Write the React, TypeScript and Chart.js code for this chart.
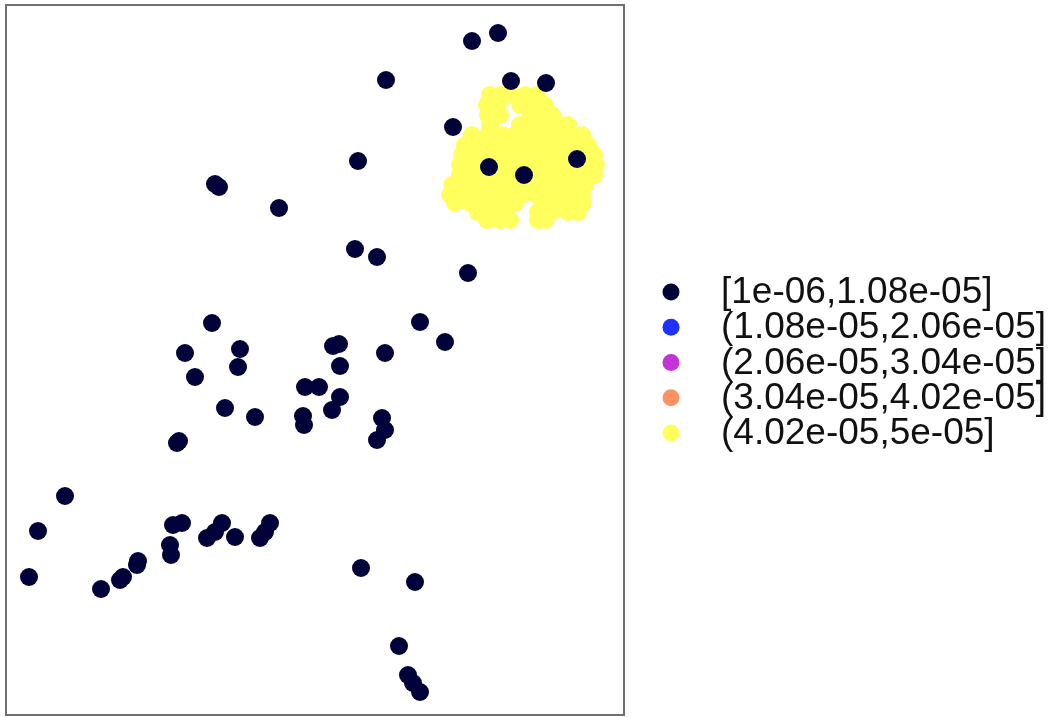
import React, { useEffect, useRef } from "react";
import { Chart, registerables } from "chart.js";

Chart.register(...registerables);

// Class breaks shown in the legend
const legendLabels = [
  "[1e-06,1.08e-05]",
  "(1.08e-05,2.06e-05]",
  "(2.06e-05,3.04e-05]",
  "(3.04e-05,4.02e-05]",
  "(4.02e-05,5e-05]",
];
const classColors = ["#02023a", "#1f30ff", "#c233d8", "#ff9262", "#ffff5e"];

// Easting-like coordinate (x) and northing-like coordinate (y, map units, top = small)
const lowX = [
  472, 498, 386, 511, 546, 453, 358, 489, 524, 577, 215, 219, 279, 355, 377, 468,
  420, 445, 212, 185, 195, 240, 238, 225, 255, 177, 179, 333, 339, 340, 305, 319,
  340, 332, 303, 304, 385, 382, 385, 377,
  65, 38, 29, 101, 120, 123, 137, 138, 170, 171, 173, 182, 207, 215, 222, 235,
  260, 265, 270, 361, 415, 399, 408, 413, 420,
];
const lowY = [
  41, 33, 80, 81, 83, 127, 161, 167, 175, 159, 184, 187, 208, 249, 257, 273,
  322, 342, 323, 353, 377, 349, 367, 408, 417, 443, 441, 346, 344, 366, 387, 387,
  397, 410, 416, 425, 353, 418, 430, 440,
  496, 531, 577, 589, 580, 577, 565, 561, 545, 555, 525, 523, 538, 532, 523, 537,
  538, 532, 523, 568, 582, 646, 675, 683, 692,
];

const highX = [
  490, 500, 512, 525, 537,
  487, 498, 520, 532, 545,
  488, 500, 530, 542, 552,
  490, 520, 535, 548, 560, 568,
  472, 488, 502, 515, 528, 542, 556, 570, 582,
  465, 478, 495, 510, 525, 540, 555, 568, 583, 588,
  462, 475, 490, 505, 520, 535, 550, 565, 580, 594,
  460, 472, 486, 500, 515, 530, 545, 560, 575, 590, 596,
  460, 474, 488, 503, 518, 533, 548, 563, 578, 594,
  452, 466, 480, 495, 510, 525, 540, 555, 570, 585,
  450, 463, 478, 492, 507, 522, 537, 552, 567, 582,
  455, 470, 485, 500, 515, 545, 560, 575, 583,
  478, 490, 505, 538, 552, 568, 578,
  487, 500, 510, 538, 545,
];
const highY = [
  95, 95, 95, 95, 95,
  105, 105, 105, 105, 105,
  115, 115, 115, 115, 115,
  125, 125, 125, 125, 125, 125,
  135, 135, 135, 135, 135, 135, 135, 135, 135,
  145, 145, 145, 145, 145, 145, 145, 145, 145, 145,
  155, 155, 155, 155, 155, 155, 155, 155, 155, 155,
  165, 165, 165, 165, 165, 165, 165, 165, 165, 165, 165,
  175, 175, 175, 175, 175, 175, 175, 175, 175, 175,
  185, 185, 185, 185, 185, 185, 185, 185, 185, 185,
  195, 195, 195, 195, 195, 195, 195, 195, 195, 195,
  203, 203, 203, 203, 203, 203, 203, 203, 203,
  212, 212, 212, 212, 212, 212, 212,
  220, 220, 220, 220, 220,
];

const toPoints = (xs: number[], ys: number[]) => xs.map((x, i) => ({ x, y: ys[i] }));

const frameAndLegend = {
  id: "frameAndLegend",
  afterDraw(chart: any) {
    const { ctx, chartArea } = chart;
    ctx.save();
    ctx.strokeStyle = "#707070";
    ctx.lineWidth = 2;
    ctx.strokeRect(
      chartArea.left,
      chartArea.top,
      chartArea.right - chartArea.left,
      chartArea.bottom - chartArea.top
    );
    const step = 35.3;
    const y0 = chart.height / 2 + 4 - 2 * step;
    const dotX = chartArea.right + 47;
    const textX = chartArea.right + 97;
    ctx.font = '37px "Liberation Sans", Arial, sans-serif';
    ctx.textBaseline = "middle";
    ctx.textAlign = "left";
    legendLabels.forEach((label, i) => {
      const y = y0 + i * step;
      ctx.beginPath();
      ctx.fillStyle = classColors[i];
      ctx.arc(dotX, y, 8.5, 0, Math.PI * 2);
      ctx.fill();
      ctx.fillStyle = "#111111";
      ctx.fillText(label, textX, y + 1);
    });
    ctx.restore();
  },
};

export default function App() {
  const ref = useRef<HTMLCanvasElement | null>(null);
  useEffect(() => {
    document.body.style.margin = "0";
    const c = ref.current!;
    const chart = new Chart(c, {
      type: "scatter",
      data: {
        datasets: [
          { label: legendLabels[0], data: toPoints(lowX, lowY), backgroundColor: classColors[0] },
          { label: legendLabels[1], data: [], backgroundColor: classColors[1] },
          { label: legendLabels[2], data: [], backgroundColor: classColors[2] },
          { label: legendLabels[3], data: [], backgroundColor: classColors[3] },
          { label: legendLabels[4], data: toPoints(highX, highY), backgroundColor: classColors[4] },
        ],
      },
      options: {
        animation: false,
        responsive: true,
        maintainAspectRatio: false,
        layout: { autoPadding: false, padding: { left: 6, top: 5, right: 429, bottom: 2 } },
        elements: { point: { radius: 9, borderWidth: 0, hoverRadius: 9 } },
        scales: {
          x: { type: "linear", display: false, min: 6, max: 624 },
          y: { type: "linear", display: false, min: 5, max: 715, reverse: true },
        },
        plugins: { legend: { display: false }, tooltip: { enabled: false } },
      },
      plugins: [frameAndLegend],
    });
    return () => chart.destroy();
  }, []);
  return (
    <div style={{ position: "relative", width: 1053, height: 717 }}>
      <canvas ref={ref} />
    </div>
  );
}
